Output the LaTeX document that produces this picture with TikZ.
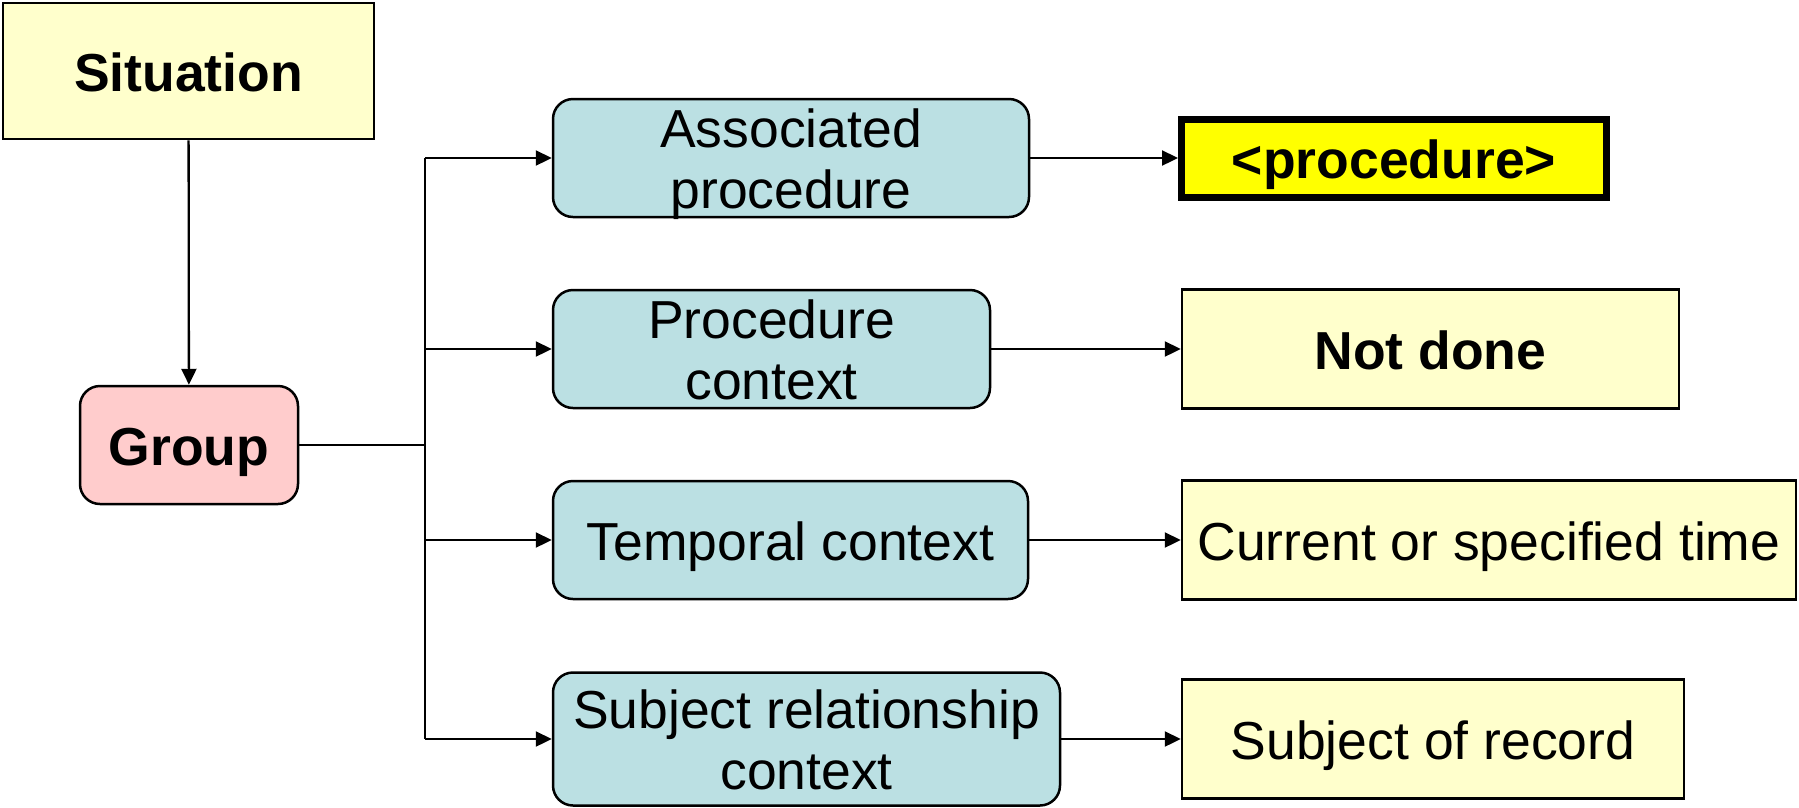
\documentclass[tikz,border=0pt]{standalone}
\usepackage{fontspec}
\setmainfont{Liberation Sans}
\usetikzlibrary{arrows.meta}
\definecolor{lightyel}{HTML}{FFFFCC}
\definecolor{pinkfill}{HTML}{FFCCCC}
\definecolor{bluefill}{HTML}{BBE0E3}
\definecolor{brightyel}{HTML}{FFFF00}
\begin{document}
\begin{tikzpicture}[x=1pt,y=-1pt,
  box/.style={draw=black, line width=2.5pt, inner sep=0pt, align=center,
    font=\fontsize{53.5}{61}\selectfont},
  boldtext/.style={font=\fontsize{53.5}{61}\selectfont\bfseries},
  oneline/.style={text height=40pt, text depth=0pt},
  twoline/.style={text height=101pt, text depth=0pt},
  sqbox/.style={box, fill=lightyel},
  rbox/.style={box, fill=bluefill, rounded corners=20pt},
  conn/.style={line width=2.3pt},
  arr/.style={conn, -{Triangle[length=16pt,width=15pt]}}]
\useasboundingbox (0,0) rectangle (1799,807);
\node[sqbox, oneline, boldtext, minimum width=371pt, minimum height=136pt] (sit) at (188.5,71) {Situation};
\node[box, oneline, boldtext, fill=pinkfill, rounded corners=20pt, minimum width=218pt, minimum height=118pt] (grp) at (189,445) {Group};
\node[rbox, twoline, minimum width=476pt, minimum height=118pt] (a1) at (791,158) {Associated\\procedure};
\node[rbox, twoline, minimum width=437pt, minimum height=118pt] (a2) at (771.5,349) {Procedure\\context};
\node[rbox, oneline, minimum width=475pt, minimum height=118pt] (a3) at (790.5,540) {Temporal context};
\node[rbox, twoline, minimum width=507pt, minimum height=133pt] (a4) at (806.5,739) {Subject relationship\\context};
\node[box, oneline, boldtext, fill=brightyel, line width=7pt, minimum width=425pt, minimum height=78pt] (proc) at (1394,158) {<procedure>};
\node[sqbox, oneline, boldtext, minimum width=497pt, minimum height=119pt] (nd) at (1430.5,349) {Not done};
\node[sqbox, oneline, minimum width=614pt, minimum height=119pt] (cur) at (1489,540) {Current or specified time};
\node[sqbox, oneline, minimum width=502pt, minimum height=119pt] (sor) at (1433,739) {Subject of record};
\coordinate (j) at (425,445);
\coordinate (t1) at (425,158);
\coordinate (t2) at (425,349);
\coordinate (t3) at (425,540);
\coordinate (t4) at (425,739);
\draw[arr] (sit) -- (grp);
\draw[conn] (grp.east) -- (j);
\draw[conn] (t1) -- (t4);
\draw[arr] (t1) -- (a1.west);
\draw[arr] (t2) -- (a2.west);
\draw[arr] (t3) -- (a3.west);
\draw[arr] (t4) -- (a4.west);
\draw[arr] (a1.east) -- (proc.west);
\draw[arr] (a2.east) -- (nd.west);
\draw[arr] (a3.east) -- (cur.west);
\draw[arr] (a4.east) -- (sor.west);
\end{tikzpicture}
\end{document}
